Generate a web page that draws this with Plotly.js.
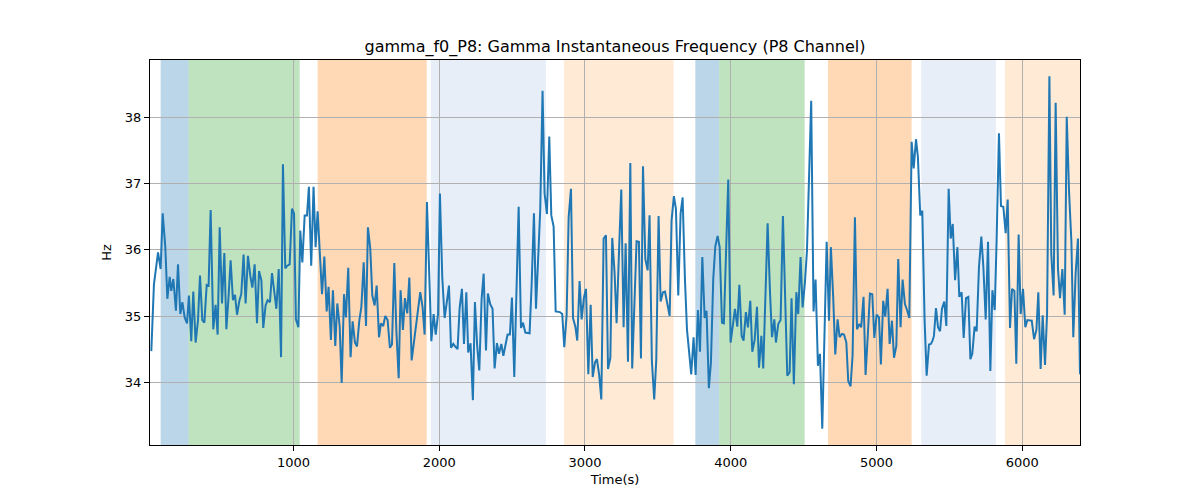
<!DOCTYPE html>
<html>
<head>
<meta charset="utf-8">
<script src="https://cdn.plot.ly/plotly-3.0.1.min.js"></script>
<style>
  html, body { margin: 0; padding: 0; background: #fff; }
  #chart { width: 1200px; height: 500px; }
</style>
</head>
<body>
<div id="chart"></div>
<script>
// time (s) and instantaneous gamma frequency (Hz)
const timeSec = [
  25, 43, 71, 89, 103, 121, 135, 151, 162, 176, 194, 208, 224, 238, 254, 270, 283, 299, 313, 329,
  345, 359, 375, 389, 405, 418, 432, 450, 466, 480, 494, 510, 526, 540, 556, 569, 585, 599, 613, 629,
  642, 658, 672, 688, 704, 718, 734, 750, 764, 780, 793, 809, 823, 839, 853, 869, 883, 899, 915, 928,
  944, 958, 974, 990, 1004, 1017, 1034, 1047, 1061, 1077,
  1093, 1106, 1122, 1138, 1152, 1166, 1182, 1196, 1212, 1228, 1241, 1257, 1271, 1287, 1301, 1317, 1331, 1347, 1360, 1376,
  1392, 1406, 1422, 1436, 1452, 1466, 1482, 1498, 1511, 1527, 1541, 1557, 1571, 1587, 1600, 1616, 1630, 1646, 1662, 1676,
  1692, 1706, 1722, 1735, 1751, 1765, 1781, 1795, 1811, 1827, 1841, 1857, 1870, 1886, 1900, 1916, 1930, 1946, 1962, 1976,
  1992, 2005, 2021, 2037, 2051, 2067, 2081, 2097, 2110, 2126, 2140, 2156,
  2170, 2186, 2199, 2215, 2231, 2245, 2261, 2275, 2291, 2305, 2321, 2334, 2350, 2366, 2380, 2396, 2410, 2426, 2440, 2456,
  2469, 2485, 2499, 2515, 2529, 2545, 2561, 2575, 2591, 2604, 2620, 2634, 2650, 2664, 2680, 2693, 2709, 2723, 2739, 2755,
  2769, 2785, 2799, 2815, 2828, 2844, 2858, 2874, 2888, 2904, 2918, 2934, 2947, 2963, 2977, 2993, 3007, 3023, 3039, 3053,
  3069, 3082, 3098, 3112, 3128, 3144, 3158, 3174, 3187, 3203, 3217, 3233,
  3249, 3265, 3279, 3295, 3311, 3324, 3340, 3354, 3370, 3384, 3398, 3414, 3430, 3443, 3459, 3475, 3489, 3505, 3519, 3535,
  3549, 3565, 3581, 3594, 3610, 3624, 3640, 3656, 3670, 3686, 3700, 3716, 3729, 3745, 3759, 3775, 3789, 3805, 3821, 3834,
  3850, 3864, 3880, 3894, 3910, 3924, 3940, 3953, 3969, 3983, 3999, 4015, 4029, 4045, 4059, 4075, 4088, 4104, 4118, 4134,
  4148, 4164, 4180, 4194, 4210, 4223, 4239, 4253, 4269, 4283, 4299,
  4310, 4326, 4342, 4358, 4372, 4388, 4404, 4417, 4433, 4450, 4463, 4479, 4493, 4509, 4523, 4539, 4552, 4568, 4582, 4598,
  4612, 4628, 4644, 4658, 4674, 4687, 4703, 4717, 4733, 4747, 4763, 4777, 4793, 4806, 4822, 4836, 4852, 4866, 4882, 4895,
  4911, 4925, 4941, 4955, 4971, 4985, 5001, 5017, 5030, 5046, 5060, 5076, 5090, 5106, 5120, 5136, 5149, 5165, 5179, 5195,
  5211, 5225, 5241, 5255, 5271, 5284, 5300, 5314, 5330, 5344, 5360, 5373,
  5383, 5394, 5408, 5422, 5436, 5449, 5465, 5479, 5495, 5509, 5523, 5539, 5555, 5568, 5584, 5598, 5614, 5630, 5644, 5657,
  5673, 5687, 5703, 5719, 5733, 5749, 5765, 5781, 5795, 5811, 5824, 5840, 5854, 5870, 5886, 5900, 5916, 5930, 5946, 5959,
  5975, 5989, 6005, 6021, 6035, 6051, 6065, 6081, 6097, 6110, 6126, 6140, 6156, 6170, 6186, 6199, 6215, 6229, 6245, 6259,
  6275, 6291, 6305, 6321, 6337, 6350, 6366, 6382, 6396
];

const freqHz = [
  34.47, 35.48, 35.96, 35.71, 36.55, 36.04, 35.26, 35.59, 35.38, 35.56, 35.08, 35.78, 35.03, 35.21, 34.98, 34.89, 35.31, 34.62, 35.37, 34.60,
  34.93, 35.61, 34.94, 34.90, 35.47, 35.46, 36.60, 34.80, 35.17, 34.72, 36.34, 35.19, 35.95, 34.80, 35.33, 35.84, 35.24, 35.32, 35.02, 35.23,
  35.33, 35.93, 35.19, 35.91, 35.61, 35.43, 35.78, 34.89, 35.68, 35.54, 34.82, 35.16, 35.24, 35.21, 35.65, 35.33, 35.11, 35.71, 34.38, 37.29,
  35.72, 35.76, 35.78, 36.62, 36.55, 34.95, 34.83, 36.29, 35.81, 36.52,
  36.52, 36.95, 35.76, 36.95, 36.04, 36.58, 35.94, 35.33, 35.90, 35.07, 35.44, 34.64, 35.39, 34.55, 35.19, 34.85, 33.99, 35.33, 34.98, 35.73,
  34.38, 34.92, 34.60, 34.54, 34.93, 35.14, 35.81, 34.85, 36.34, 36.02, 35.31, 35.16, 35.46, 34.68, 34.89, 34.85, 35.00, 34.94, 34.52, 34.57,
  35.80, 34.78, 34.06, 35.39, 34.79, 35.27, 35.04, 35.58, 34.33, 34.60, 34.89, 35.13, 35.36, 35.13, 34.72, 36.72, 35.69, 34.62, 35.03, 34.72,
  35.03, 36.85, 35.59, 34.97, 35.19, 35.46, 34.52, 34.58, 34.54, 34.50, 35.12, 35.41,
  34.58, 35.36, 34.45, 34.59, 33.73, 35.21, 34.53, 34.18, 35.26, 35.64, 34.48, 35.34, 35.18, 35.11, 34.21, 34.59, 34.43, 34.58, 34.40, 34.60,
  34.72, 34.72, 35.28, 34.08, 35.13, 36.65, 34.82, 34.90, 34.75, 34.75, 34.74, 35.47, 36.55, 35.11, 35.85, 36.60, 38.40, 36.85, 36.54, 37.71,
  36.52, 36.35, 35.07, 35.07, 35.06, 35.03, 34.53, 35.01, 36.49, 36.92, 34.97, 34.84, 34.63, 35.53, 34.95, 35.28, 35.41, 34.12, 35.17, 34.08,
  34.30, 34.35, 34.10, 33.74, 36.17, 36.22, 34.20, 34.37, 36.18, 35.66, 34.89, 35.94,
  36.91, 34.83, 36.10, 34.31, 37.31, 34.21, 35.18, 36.13, 36.12, 34.36, 37.26, 35.86, 35.69, 36.52, 34.32, 33.74, 34.33, 36.51, 35.22, 35.36,
  35.37, 35.21, 35.00, 36.44, 36.81, 36.62, 35.31, 36.55, 36.79, 35.54, 34.79, 34.42, 34.12, 34.68, 34.11, 35.09, 34.46, 35.89, 34.97, 35.08,
  33.91, 34.30, 35.56, 36.05, 36.21, 36.04, 34.90, 34.89, 35.93, 37.06, 34.60, 34.87, 35.11, 34.84, 35.47, 34.70, 34.63, 35.06, 34.83, 35.23,
  34.46, 34.64, 35.14, 34.22, 34.70, 34.21, 35.33, 36.40, 35.38, 34.68, 34.95,
  34.60, 34.88, 34.94, 36.51, 35.54, 34.10, 34.15, 35.27, 33.97, 35.36, 35.03, 35.89, 35.13, 35.51, 35.99, 37.43, 38.25, 35.07, 35.55, 34.25,
  34.43, 33.30, 35.08, 36.12, 34.93, 36.04, 35.28, 34.42, 34.95, 34.68, 34.73, 34.72, 34.60, 34.02, 33.94, 34.41, 36.49, 34.80, 34.88, 34.83,
  35.29, 34.11, 34.74, 35.34, 35.33, 34.67, 35.02, 34.98, 34.27, 35.23, 34.99, 35.41, 34.58, 34.93, 34.37, 34.55, 35.86, 34.83, 35.55, 35.18,
  35.08, 34.97, 37.63, 37.23, 37.67, 37.40, 36.52, 36.59, 34.93, 34.10, 34.57, 34.58,
  34.62, 34.70, 35.12, 34.83, 34.77, 35.11, 35.22, 34.85, 36.92, 36.17, 36.39, 35.54, 36.04, 35.29, 35.36, 34.67, 35.27, 35.29, 34.35, 34.43,
  34.84, 34.77, 35.74, 36.20, 35.74, 34.95, 36.12, 34.17, 35.39, 35.09, 36.14, 37.76, 36.66, 36.65, 36.25, 36.76, 34.82, 35.41, 35.38, 34.28,
  36.23, 35.03, 35.41, 34.83, 34.94, 34.93, 34.93, 34.65, 34.79, 35.36, 34.20, 35.01, 34.26, 35.03, 38.62, 35.94, 35.31, 38.22, 35.71, 35.27,
  35.71, 35.02, 38.01, 36.87, 36.12, 34.68, 35.64, 36.17, 34.12
];

// shaded segments (start, end in seconds) and their colour
const bandStart = [89, 281, 1166, 1943, 2856, 3757, 3921, 4667, 5307, 5881];
const bandEnd = [281, 1043, 1914, 2732, 3608, 3921, 4507, 5241, 5819, 6500];
const bandColor = ['#1f77b4', '#2ca02c', '#ff7f0e', '#aec7e8', '#ffbb78',
                   '#1f77b4', '#2ca02c', '#ff7f0e', '#aec7e8', '#ffbb78'];

const shapes = bandStart.map((x0, i) => ({
    type: 'rect',
    xref: 'x',
    yref: 'paper',
    x0: x0,
    x1: bandEnd[i],
    y0: 0,
    y1: 1,
    fillcolor: bandColor[i],
    opacity: 0.3,
    line: { width: 0 },
    layer: 'between'
}));

const data = [{
    type: 'scatter',
    mode: 'lines',
    x: timeSec,
    y: freqHz,
    line: { color: '#1f77b4', width: 2 },
    hoverinfo: 'x+y'
}];

const axisCommon = {
    showline: true,
    linecolor: '#000',
    linewidth: 1,
    mirror: true,
    ticks: 'outside',
    ticklen: 5,
    tickcolor: '#000',
    showgrid: true,
    gridcolor: '#b0b0b0',
    gridwidth: 1,
    zeroline: false,
    tickfont: { size: 13, color: '#000' }
};

const layout = {
    width: 1200,
    height: 500,
    margin: { l: 150, r: 120, t: 60, b: 55 },
    paper_bgcolor: '#fff',
    plot_bgcolor: '#fff',
    font: { family: 'DejaVu Sans, sans-serif', size: 13, color: '#000' },
    title: {
        text: 'gamma_f0_P8: Gamma Instantaneous Frequency (P8 Channel)',
        font: { size: 16, color: '#000' },
        x: 0.5125,
        xanchor: 'center',
        y: 0.908,
        yanchor: 'middle'
    },
    xaxis: Object.assign({}, axisCommon, {
        range: [16, 6396],
        tickvals: [1000, 2000, 3000, 4000, 5000, 6000],
        title: { text: 'Time(s)', font: { size: 13, color: '#000' }, standoff: 6 }
    }),
    yaxis: Object.assign({}, axisCommon, {
        range: [33.053, 38.866],
        tickvals: [34, 35, 36, 37, 38],
        title: { text: 'Hz', font: { size: 13, color: '#000' }, standoff: 10 }
    }),
    shapes: shapes,
    showlegend: false
};

Plotly.newPlot('chart', data, layout, { displayModeBar: false, staticPlot: true });
</script>
</body>
</html>
